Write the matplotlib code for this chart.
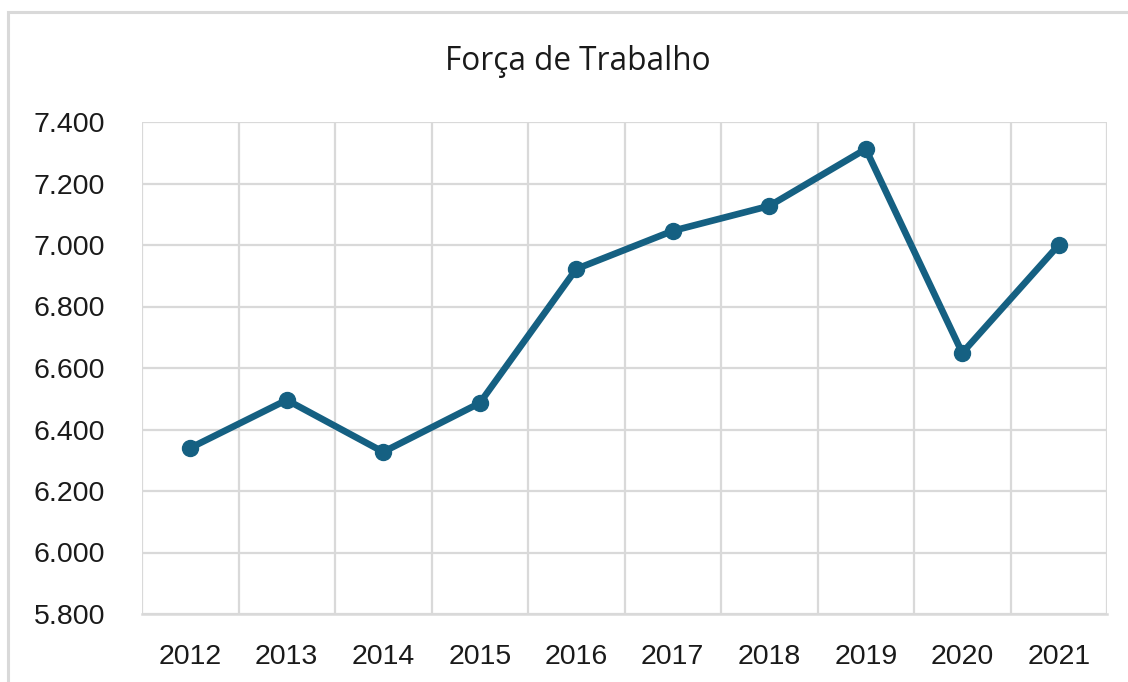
import matplotlib.pyplot as plt
from matplotlib.patches import Rectangle
from matplotlib.ticker import FuncFormatter, MultipleLocator

years = ["2012", "2013", "2014", "2015", "2016", "2017", "2018", "2019", "2020", "2021"]
forca_trabalho = [6340, 6496, 6327, 6486, 6922, 7046, 7127, 7312, 6649, 7000]

line_color = "#156082"
grid_color = "#d9d9d9"

fig = plt.figure(figsize=(11.28, 6.82), dpi=100)
W, H = 1128, 682
ax = fig.add_axes([142 / W, 1 - 614 / H, (1107 - 142) / W, (614 - 122) / H])

# outer chart frame (only top and left edges visible in the crop)
fig.patches.append(Rectangle((8 / W, -0.1), 1.2, 1 - 12 / H + 0.1,
                             transform=fig.transFigure, fill=False,
                             edgecolor=grid_color, linewidth=2.2))

x = range(len(years))
ax.plot(x, forca_trabalho, color=line_color, linewidth=4.8, marker="o",
        markersize=11.5, solid_joinstyle="round", solid_capstyle="round", zorder=3)

ax.set_xlim(-0.5, len(years) - 0.5)
ax.set_ylim(5800, 7400)
ax.yaxis.set_major_locator(MultipleLocator(200))
ax.yaxis.set_major_formatter(FuncFormatter(lambda v, p: f"{v:,.0f}".replace(",", ".")))
ax.set_xticks(list(x))
ax.set_xticklabels(years)
ax.set_xticks([i - 0.5 for i in range(len(years) + 1)], minor=True)

ax.grid(axis="y", which="major", color=grid_color, linewidth=1.6)
ax.grid(axis="x", which="minor", color=grid_color, linewidth=1.6)
ax.set_axisbelow(True)
for s in ax.spines.values():
    s.set_visible(False)
ax.spines["bottom"].set_visible(True)
ax.spines["bottom"].set_color(grid_color)
ax.spines["bottom"].set_linewidth(1.8)

ax.tick_params(which="both", length=0)
ax.tick_params(axis="y", pad=26.5)
ax.tick_params(axis="x", pad=21.5)
for lbl in ax.get_xticklabels() + ax.get_yticklabels():
    lbl.set_fontfamily("Liberation Sans")
    lbl.set_fontsize(20.5)
    lbl.set_color("#1a1a1a")

fig.text(578 / W, 1 - 61 / H, "Força de Trabalho", ha="center", va="center",
         fontsize=22.7, family="Open Sans", color="#1a1a1a")

fig.savefig("out.png", dpi=100)
